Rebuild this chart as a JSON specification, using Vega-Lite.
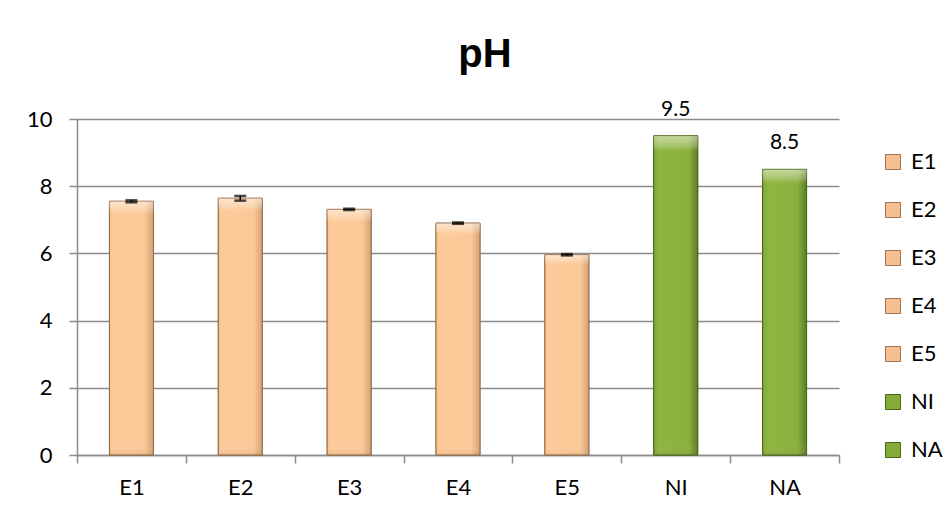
{
  "$schema": "https://vega.github.io/schema/vega-lite/v6.json",
  "width": 762,
  "height": 336,
  "autosize": {"type": "none"},
  "padding": {"left": 77, "top": 119, "right": 108, "bottom": 62},
  "background": "white",
  "title": {
    "text": "pH",
    "font": "Liberation Sans",
    "fontSize": 40,
    "fontWeight": "bold",
    "color": "black",
    "anchor": "middle",
    "frame": "group",
    "baseline": "alphabetic",
    "offset": 36,
    "dy": 44,
    "dx": 27
  },
  "data": {
    "values": [
      {"sample": "E1", "ph": 7.55, "err": 0.03},
      {"sample": "E2", "ph": 7.64, "err": 0.07},
      {"sample": "E3", "ph": 7.31, "err": 0.02},
      {"sample": "E4", "ph": 6.9, "err": 0.02},
      {"sample": "E5", "ph": 5.96, "err": 0.02},
      {"sample": "NI", "ph": 9.5, "label": "9.5"},
      {"sample": "NA", "ph": 8.5, "label": "8.5"}
    ]
  },
  "encoding": {
    "x": {
      "field": "sample",
      "type": "nominal",
      "sort": null,
      "scale": {"paddingInner": 0, "paddingOuter": 0},
      "axis": {
        "title": null,
        "labelAngle": 0,
        "labelFont": "Lato",
        "labelFontSize": 22,
        "labelColor": "black",
        "labelPadding": 14,
        "tickBand": "extent",
        "tickSize": 8,
        "tickColor": "#8c8c8c",
        "tickWidth": 1.5,
        "domainColor": "#8c8c8c",
        "domainWidth": 1.5,
        "grid": false
      }
    }
  },
  "layer": [
    {
      "mark": {"type": "bar", "width": {"band": 0.404}, "strokeWidth": 1},
      "encoding": {
        "y": {
          "field": "ph",
          "type": "quantitative",
          "scale": {"domain": [0, 10], "nice": false},
          "axis": {
            "title": null,
            "values": [0, 2, 4, 6, 8, 10],
            "labelFont": "Lato",
            "labelFontSize": 22,
            "labelColor": "black",
            "labelPadding": 17,
            "tickSize": 8,
            "tickColor": "#8c8c8c",
            "tickWidth": 1.5,
            "domainColor": "#8c8c8c",
            "domainWidth": 1.5,
            "grid": true,
            "gridColor": "#8c8c8c",
            "gridWidth": 1.5
          }
        },
        "fill": {
          "field": "sample",
          "type": "nominal",
          "sort": null,
          "scale": {
            "domain": ["E1", "E2", "E3", "E4", "E5", "NI", "NA"],
            "range": ["#F6BF8F", "#F6BF8F", "#F6BF8F", "#F6BF8F", "#F6BF8F", "#86AC38", "#86AC38"]
          },
          "legend": {"title": null}
        },
        "stroke": {
          "field": "sample",
          "type": "nominal",
          "sort": null,
          "scale": {
            "domain": ["E1", "E2", "E3", "E4", "E5", "NI", "NA"],
            "range": ["#9C7450", "#9C7450", "#9C7450", "#9C7450", "#9C7450", "#4A6618", "#4A6618"]
          },
          "legend": {"title": null}
        }
      }
    },
    {
      "mark": {"type": "bar", "width": {"band": 0.404}, "strokeWidth": 1},
      "encoding": {
        "y": {"field": "ph", "type": "quantitative"},
        "fill": {
          "condition": {
            "test": "datum.sample === 'NI' || datum.sample === 'NA'",
            "value": {
              "gradient": "linear",
              "x1": 0, "y1": 0, "x2": 1, "y2": 0,
              "stops": [
                {"offset": 0, "color": "#7FA436"},
                {"offset": 0.12, "color": "#8DB640"},
                {"offset": 0.8, "color": "#89B03D"},
                {"offset": 1, "color": "#5C7D22"}
              ]
            }
          },
          "value": {
            "gradient": "linear",
            "x1": 0, "y1": 0, "x2": 1, "y2": 0,
            "stops": [
              {"offset": 0, "color": "#F9C393"},
              {"offset": 0.12, "color": "#FDCB9A"},
              {"offset": 0.8, "color": "#FBC897"},
              {"offset": 1, "color": "#D4A274"}
            ]
          }
        },
        "stroke": {
          "condition": {
            "test": "datum.sample === 'NI' || datum.sample === 'NA'",
            "value": "#4A6618"
          },
          "value": "#8E6A48"
        }
      }
    },
    {
      "mark": {
        "type": "bar",
        "width": {"band": 0.404},
        "fill": {
          "gradient": "linear",
          "x1": 0, "y1": 0, "x2": 0, "y2": 1,
          "stops": [
            {"offset": 0, "color": "rgba(255,255,255,0.5)"},
            {"offset": 0.03, "color": "rgba(255,255,255,0.25)"},
            {"offset": 0.05, "color": "rgba(255,255,255,0)"},
            {"offset": 0.96, "color": "rgba(255,255,255,0)"},
            {"offset": 1, "color": "rgba(120,80,40,0.12)"}
          ]
        }
      },
      "encoding": {
        "y": {"field": "ph", "type": "quantitative"}
      }
    },
    {
      "transform": [{"filter": "isValid(datum.err)"}],
      "mark": {
        "type": "errorbar",
        "ticks": {"size": 12, "thickness": 2.5, "color": "black"},
        "rule": {"color": "black", "strokeWidth": 1.5}
      },
      "encoding": {
        "y": {"field": "ph", "type": "quantitative"},
        "yError": {"field": "err"}
      }
    },
    {
      "transform": [{"filter": "isValid(datum.label)"}],
      "mark": {
        "type": "text",
        "font": "Lato",
        "fontSize": 21,
        "color": "black",
        "baseline": "alphabetic",
        "dy": -20
      },
      "encoding": {
        "y": {"field": "ph", "type": "quantitative"},
        "text": {"field": "label"}
      }
    }
  ],
  "config": {
    "view": {"stroke": null},
    "legend": {
      "orient": "none",
      "legendX": 805,
      "legendY": 32,
      "padding": 0,
      "symbolType": "square",
      "symbolSize": 225,
      "symbolStrokeWidth": 1,
      "labelFont": "Lato",
      "labelFontSize": 22,
      "labelColor": "black",
      "labelOffset": 7,
      "rowPadding": 26
    }
  }
}
